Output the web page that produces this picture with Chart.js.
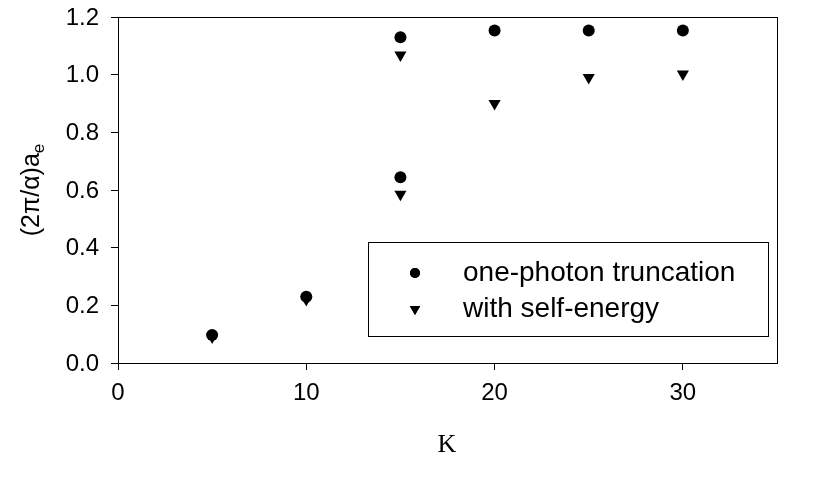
<!DOCTYPE html>
<html>
<head>
<meta charset="utf-8">
<script src="https://cdn.jsdelivr.net/npm/chart.js@4"></script>
<style>
html,body{margin:0;padding:0;background:#fff;}
#wrap{width:817px;height:478px;}
</style>
</head>
<body>
<div id="wrap"><canvas id="c" width="817" height="478"></canvas></div>
<script>
const kValues = [5, 10, 15, 15, 20, 25, 30];
const onePhoton = [0.097, 0.23, 0.644, 1.13, 1.153, 1.153, 1.153];
const selfEnergy = [0.09, 0.22, 0.585, 1.068, 0.9, 0.99, 1.002];
const seriesNames = ["one-photon truncation", "with self-energy"];
const xTicks = [0, 10, 20, 30];
const yTicks = [0.0, 0.2, 0.4, 0.6, 0.8, 1.0, 1.2];

const FONT = "'Liberation Sans', Arial, Helvetica, sans-serif";

const framePlugin = {
  id: 'frame',
  afterDraw(chart) {
    const ctx = chart.ctx, a = chart.chartArea;
    ctx.save();
    ctx.strokeStyle = '#000';
    ctx.lineWidth = 1;
    ctx.strokeRect(Math.round(a.left) + 0.5, Math.round(a.top) + 0.5, Math.round(a.right - a.left), Math.round(a.bottom - a.top));

    // y tick labels (through the y scale)
    const ys = chart.scales.y;
    ctx.fillStyle = '#000';
    ctx.font = '24px ' + FONT;
    ctx.textAlign = 'right';
    ctx.textBaseline = 'middle';
    yTicks.forEach(v => {
      ctx.fillText(v.toFixed(1), 99, ys.getPixelForValue(v) + 1);
    });

    // legend box
    const lx = 368, ly = 242, lw = 400, lh = 94;
    ctx.fillStyle = '#fff';
    ctx.fillRect(lx, ly, lw, lh);
    ctx.strokeRect(lx + 0.5, ly + 0.5, lw, lh);
    const order = [1, 0];
    const rows = [273, 309];
    order.forEach((di, i) => {
      const d = chart.data.datasets[di];
      ctx.fillStyle = '#000';
      Chart.helpers.drawPoint(ctx, {pointStyle: d.pointStyle, radius: i === 0 ? 5 : 6, rotation: d.rotation || 0, borderWidth: 0}, 415, rows[i]);
      ctx.fill();
      ctx.font = '28px ' + FONT;
      ctx.textBaseline = 'middle';
      ctx.textAlign = 'left';
      ctx.fillText(d.label, 463, rows[i]);
    });

    // y-axis title with subscript
    ctx.save();
    ctx.translate(32, 190);
    ctx.rotate(-Math.PI / 2);
    ctx.textBaseline = 'middle';
    const main = '(2\u03c0/\u03b1)a';
    ctx.font = '25px ' + FONT;
    const w1 = ctx.measureText(main).width;
    ctx.font = '17px ' + FONT;
    const w2 = ctx.measureText('e').width;
    const tot = w1 + w2;
    ctx.font = '25px ' + FONT;
    ctx.textAlign = 'left';
    ctx.fillText(main, -tot / 2, 0);
    ctx.font = '17px ' + FONT;
    ctx.fillText('e', -tot / 2 + w1, 7);
    ctx.restore();

    // x-axis title
    ctx.font = '26px "Liberation Serif", "Times New Roman", serif';
    ctx.textAlign = 'center';
    ctx.textBaseline = 'middle';
    ctx.fillStyle = '#000';
    ctx.fillText('K', 447, 445);
    ctx.restore();
  }
};

new Chart(document.getElementById('c'), {
  type: 'scatter',
  data: {
    datasets: [
      {
        label: seriesNames[1],
        data: kValues.map((k, i) => ({x: k, y: selfEnergy[i]})),
        pointStyle: 'triangle',
        rotation: 180,
        pointRadius: 7,
        backgroundColor: '#000',
        borderColor: '#000',
        borderWidth: 0,
        order: 2
      },
      {
        label: seriesNames[0],
        data: kValues.map((k, i) => ({x: k, y: onePhoton[i]})),
        pointStyle: 'circle',
        pointRadius: 6,
        backgroundColor: '#000',
        borderColor: '#000',
        borderWidth: 0,
        order: 1
      }
    ]
  },
  options: {
    responsive: false,
    animation: false,
    devicePixelRatio: 1,
    layout: {padding: {top: 17, right: 40, left: 0, bottom: 0}},
    plugins: {legend: {display: false}, tooltip: {enabled: false}},
    scales: {
      x: {
        type: 'linear', min: 0, max: 35,
        afterBuildTicks: s => { s.ticks = xTicks.map(v => ({value: v})); },
        afterFit: s => { s.height = 115; },
        grid: {drawOnChartArea: false, drawTicks: true, tickLength: 7, color: '#000', lineWidth: 1},
        border: {display: true, color: '#000', width: 1},
        ticks: {color: '#000', font: {family: FONT, size: 24}, padding: 9, maxRotation: 0}
      },
      y: {
        type: 'linear', min: 0, max: 1.2,
        afterBuildTicks: s => { s.ticks = yTicks.map(v => ({value: v})); },
        afterFit: s => { s.width = 118; },
        grid: {drawOnChartArea: false, drawTicks: true, tickLength: 7, color: '#000', lineWidth: 1},
        border: {display: true, color: '#000', width: 1},
        ticks: {display: false}
      }
    }
  },
  plugins: [framePlugin]
});
</script>
</body>
</html>
